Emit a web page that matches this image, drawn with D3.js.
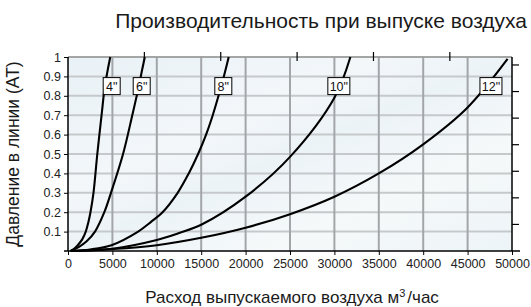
<!DOCTYPE html>
<html>
<head>
<meta charset="utf-8">
<script src="https://cdn.jsdelivr.net/npm/d3@7"></script>
<style>
  html, body { margin: 0; padding: 0; background: #fff; }
  svg { display: block; font-family: "Liberation Sans", Arial, sans-serif; }
</style>
</head>
<body>
<div id="chart"></div>
<script>
// Производительность при выпуске воздуха — давление (АТ) vs расход (м³/час)

const sizes = ['4"', '6"', '8"', '10"', '12"'];

// расход, м³/час
const flow4  = [300, 650, 1100, 1600, 2000, 2300, 2530, 2870, 3300, 3780, 4150, 4460, 4760];
const flow6  = [300, 1200, 2100, 3040, 4090, 4840, 6200, 7240, 7980, 8330, 8650];
const flow8  = [300, 2500, 4900, 7900, 9350, 10650, 12350, 13600, 14650, 15550, 16300, 16950, 17550, 18100];
const flow10 = [300, 5000, 10000, 12600, 15000, 20000, 25000, 30000, 31800];
const flow12 = [300, 5000, 10000, 15000, 20000, 25000, 30000, 35000, 40000, 45000, 49500];

// давление, АТ
const pres4  = [0, 0.01, 0.03, 0.06, 0.1, 0.15, 0.2, 0.3, 0.5, 0.7, 0.85, 0.93, 1.0];
const pres6  = [0, 0.02, 0.05, 0.1, 0.2, 0.3, 0.5, 0.7, 0.85, 0.93, 1.0];
const pres8  = [0, 0.008, 0.03, 0.1, 0.15, 0.2, 0.3, 0.4, 0.5, 0.6, 0.7, 0.8, 0.9, 1.0];
const pres10 = [0, 0.012, 0.057, 0.094, 0.135, 0.28, 0.485, 0.79, 1.0];
const pres12 = [0, 0.01, 0.03, 0.068, 0.12, 0.19, 0.28, 0.40, 0.55, 0.74, 0.99];

// подписи диаметров (центр рамки, в единицах данных)
const labelFlow = [4920, 8300, 17490, 30500, 47630];
const labelPres = 0.85;

const xTicks = d3.range(0, 50001, 5000);
const yTicks = [0.1, 0.2, 0.3, 0.4, 0.5, 0.6, 0.7, 0.8, 0.9, 1];

// вторичные шкалы без подписей: cfm сверху, psi справа
const cfmTicks = [5000, 10000, 15000, 20000, 25000];
const m3PerCfm = 1.72;
const psiTicks = [2, 4, 6, 8, 10, 12, 14];
const psiPerAT = 14.6;

const W = 531, H = 307;
const m = { left: 68, right: 19, top: 57, bottom: 56 };

const svg = d3.select('#chart').append('svg')
  .attr('width', W).attr('height', H);

const x = d3.scaleLinear().domain([0, 50000]).range([m.left, W - m.right]);
const y = d3.scaleLinear().domain([0, 1]).range([H - m.bottom, m.top]);

// фон
const defs = svg.append('defs');
const grad = defs.append('linearGradient').attr('id', 'bg')
  .attr('x1', 0).attr('y1', 0).attr('x2', 1).attr('y2', 1);
[[0, '#e8f1f6'], [0.35, '#f3f7fa'], [0.5, '#ecf3f7'], [0.72, '#f5f9fa'], [1, '#edf4f7']]
  .forEach(([o, c]) => grad.append('stop').attr('offset', o).attr('stop-color', c));

svg.append('rect')
  .attr('x', x(0)).attr('y', y(1))
  .attr('width', x(50000) - x(0)).attr('height', y(0) - y(1))
  .attr('fill', 'url(#bg)');

// сетка
svg.append('g').selectAll('line')
  .data(yTicks)
  .join('line')
  .attr('x1', x(0)).attr('x2', x(50000))
  .attr('y1', d => y(d)).attr('y2', d => y(d))
  .attr('stroke', '#c6c9cb').attr('stroke-width', 2);

svg.append('g').selectAll('line')
  .data(xTicks.filter(d => d > 0 && d < 50000))
  .join('line')
  .attr('x1', d => x(d)).attr('x2', d => x(d))
  .attr('y1', y(0)).attr('y2', y(1))
  .attr('stroke', '#a3a6a8').attr('stroke-width', 2);

// верхняя рамка
svg.append('line')
  .attr('x1', x(0)).attr('x2', x(50000))
  .attr('y1', y(1)).attr('y2', y(1))
  .attr('stroke', '#999').attr('stroke-width', 1.5);

// оси
const xAxis = svg.append('g')
  .attr('transform', `translate(0,${y(0)})`)
  .call(d3.axisBottom(x).tickValues(xTicks).tickFormat(d3.format('d')).tickSize(4).tickPadding(4));
xAxis.select('.domain').remove();
xAxis.selectAll('text').attr('font-size', 12.5).attr('fill', '#222')
  .attr('font-family', '"Liberation Sans", Arial, sans-serif');

const yAxis = svg.append('g')
  .attr('transform', `translate(${x(0)},0)`)
  .call(d3.axisLeft(y).tickValues(yTicks).tickFormat(d => d === 1 ? '1' : d3.format('.1f')(d)).tickSize(4).tickPadding(3));
yAxis.select('.domain').remove();
yAxis.selectAll('text').attr('font-size', 12.5).attr('fill', '#222')
  .attr('font-family', '"Liberation Sans", Arial, sans-serif');

const axisLines = svg.append('g').attr('stroke', '#000').attr('stroke-width', 1.5);
axisLines.append('line')
  .attr('x1', x(0) - 4).attr('x2', x(50000) + 8)
  .attr('y1', y(0)).attr('y2', y(0));
axisLines.append('line')
  .attr('x1', x(0)).attr('x2', x(0))
  .attr('y1', y(0)).attr('y2', y(1));
axisLines.append('line')
  .attr('x1', x(50000)).attr('x2', x(50000))
  .attr('y1', y(0)).attr('y2', y(1));

// psi справа
svg.append('g').selectAll('line')
  .data(psiTicks)
  .join('line')
  .attr('x1', x(50000)).attr('x2', x(50000) + 7)
  .attr('y1', d => y(d / psiPerAT)).attr('y2', d => y(d / psiPerAT))
  .attr('stroke', '#000').attr('stroke-width', 1.2);

// cfm сверху
svg.append('g').selectAll('line')
  .data(cfmTicks)
  .join('line')
  .attr('x1', d => x(d * m3PerCfm)).attr('x2', d => x(d * m3PerCfm))
  .attr('y1', y(1) - 5).attr('y2', y(1) + 4)
  .attr('stroke', '#000').attr('stroke-width', 1.2);

// кривые
const series = [
  [flow4, pres4], [flow6, pres6], [flow8, pres8], [flow10, pres10], [flow12, pres12]
].map(([f, p]) => f.map((q, i) => [q, p[i]]));

const line = d3.line()
  .x(d => x(d[0]))
  .y(d => y(d[1]))
  .curve(d3.curveCatmullRom.alpha(0.5));

svg.append('g').selectAll('path')
  .data(series)
  .join('path')
  .attr('d', line)
  .attr('fill', 'none')
  .attr('stroke', '#000')
  .attr('stroke-width', 2.1)
  .attr('stroke-linejoin', 'round');

// подписи диаметров
const tag = svg.append('g').selectAll('g')
  .data(sizes)
  .join('g')
  .attr('transform', (d, i) => `translate(${x(labelFlow[i])},${y(labelPres)})`);

tag.append('rect')
  .attr('x', d => d.length > 2 ? -11 : -8.5)
  .attr('y', -8.5)
  .attr('width', d => d.length > 2 ? 22 : 17)
  .attr('height', 17)
  .attr('fill', '#fff')
  .attr('stroke', '#000')
  .attr('stroke-width', 1);

tag.append('text')
  .text(d => d)
  .attr('text-anchor', 'middle')
  .attr('dy', '0.36em')
  .attr('font-size', 12.5)
  .attr('fill', '#111')
  .attr('font-family', '"Liberation Sans Narrow", "Liberation Sans", Arial, sans-serif');

// заголовки
svg.append('text')
  .attr('x', 527).attr('y', 28)
  .attr('text-anchor', 'end')
  .attr('font-size', 21)
  .attr('fill', '#1a1a1a')
  .text('Производительность при выпуске воздуха');

svg.append('text')
  .attr('transform', `translate(19,${(y(0) + y(1)) / 2}) rotate(-90)`)
  .attr('text-anchor', 'middle')
  .attr('font-size', 17.5)
  .attr('fill', '#1a1a1a')
  .text('Давление в линии (AT)');

const xt = svg.append('text')
  .attr('x', 292).attr('y', 303)
  .attr('text-anchor', 'middle')
  .attr('font-size', 17)
  .attr('fill', '#1a1a1a');
xt.append('tspan').text('Расход выпускаемого воздуха м');
xt.append('tspan').attr('font-size', 11).attr('dy', -6).text('3');
xt.append('tspan').attr('dy', 6).attr('dx', 2).text('/час');
</script>
</body>
</html>
